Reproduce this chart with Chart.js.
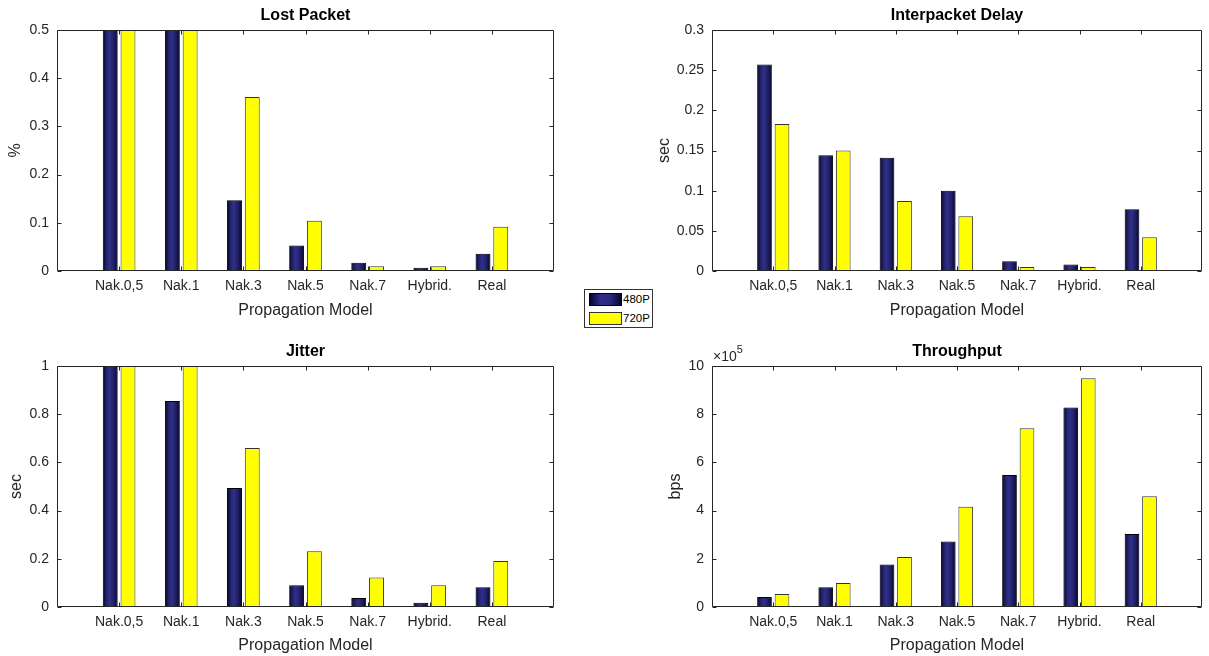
<!DOCTYPE html>
<html>
<head>
<meta charset="utf-8">
<script src="https://cdn.jsdelivr.net/npm/chart.js@4.4.1/dist/chart.umd.min.js"></script>
<style>
  body { margin: 0; background: #fff; width: 1209px; height: 656px; position: relative; overflow: hidden; font-family: 'Liberation Sans', Arial, sans-serif; }
  canvas { position: absolute; }
  #legend { position: absolute; left: 584px; top: 289px; width: 67px; height: 37px; border: 1px solid #333; background: #fff; }
  .row { position: absolute; left: 4px; height: 12px; font-size: 11.5px; line-height: 12px; color: #000; }
  .sw { position: absolute; left: 0; top: 0; width: 31px; height: 11px; border: 1px solid #000; }
  .row span { position: absolute; left: 34px; top: 0; }
</style>
</head>
<body>
<canvas id="lost" style="left:0;top:0"></canvas>
<canvas id="delay" style="left:640px;top:0"></canvas>
<canvas id="jitter" style="left:0;top:326px"></canvas>
<canvas id="throughput" style="left:640px;top:326px"></canvas>
<div id="legend">
  <div class="row" style="top:3px"><div class="sw" style="background:linear-gradient(90deg,#07072c,#2e2e8a 35%,#2a2a80 65%,#06062a)"></div><span id="lg0"></span></div>
  <div class="row" style="top:22px"><div class="sw" style="background:#ffff00;border-color:#333"></div><span id="lg1"></span></div>
</div>
<script>
const categories = ['Nak.0,5', 'Nak.1', 'Nak.3', 'Nak.5', 'Nak.7', 'Hybrid.', 'Real']
const seriesNames = ['480P', '720P']

// values above the axis max are clipped, as in the original figure
const lostPacket480 = [0.6, 0.6, 0.147, 0.053, 0.017, 0.007, 0.036]
const lostPacket720 = [0.6, 0.6, 0.361, 0.104, 0.010, 0.010, 0.092]
const delay480 = [0.257, 0.144, 0.141, 0.100, 0.012, 0.008, 0.077]
const delay720 = [0.183, 0.150, 0.087, 0.068, 0.005, 0.005, 0.042]
const jitter480 = [1.2, 0.855, 0.494, 0.090, 0.037, 0.018, 0.082]
const jitter720 = [1.2, 1.2, 0.660, 0.231, 0.122, 0.090, 0.191]
const throughput480 = [41000, 82000, 176000, 272000, 548000, 828000, 303000]
const throughput720 = [54000, 100000, 207000, 416000, 742000, 949000, 460000]

const FONT = "'Liberation Sans', Arial, Helvetica, sans-serif"
const AXIS_COLOR = '#262626'

document.getElementById('lg0').textContent = seriesNames[0]
document.getElementById('lg1').textContent = seriesNames[1]

// box with inward tick marks, shaded navy bars and the axes title
const matlabAxes = {
    id: 'matlabAxes',
    afterDatasetDraw(chart, args) {
        if (args.index !== 0) return
        const ctx = chart.ctx
        const a = chart.chartArea
        const raw = chart.data.datasets[0].data
        ctx.save()
        ctx.beginPath()
        ctx.rect(a.left, a.top, a.right - a.left, a.bottom - a.top)
        ctx.clip()
        args.meta.data.forEach((bar, i) => {
            if (raw[i] == null) return
            const { x, y, base, width } = bar.getProps(['x', 'y', 'base', 'width'], true)
            const l = x - width / 2
            const g = ctx.createLinearGradient(l, 0, l + width, 0)
            g.addColorStop(0, '#05051e')
            g.addColorStop(0.25, '#24246e')
            g.addColorStop(0.45, '#30308c')
            g.addColorStop(0.75, '#1e1e62')
            g.addColorStop(1, '#04041a')
            ctx.fillStyle = g
            ctx.fillRect(l + 1, y + 1, width - 2, base - y - 1)
        })
        ctx.restore()
    },
    afterDraw(chart, args, opts) {
        const ctx = chart.ctx
        const a = chart.chartArea
        const xs = chart.scales.x
        const ys = chart.scales.y
        const L = Math.round(a.left) + 0.5, R = Math.round(a.right) - 0.5
        const T = Math.round(a.top) + 0.5, B = Math.round(a.bottom) - 0.5
        ctx.save()
        ctx.strokeStyle = AXIS_COLOR
        ctx.lineWidth = 1
        ctx.beginPath()
        ctx.rect(L, T, R - L, B - T)
        const tl = 4
        for (let i = 1; i <= categories.length; i++) {
            const px = Math.round(xs.getPixelForValue(i)) + 0.5
            ctx.moveTo(px, T); ctx.lineTo(px, T + tl)
            ctx.moveTo(px, B); ctx.lineTo(px, B - tl)
        }
        ys.ticks.forEach(t => {
            const py = Math.round(ys.getPixelForValue(t.value)) + 0.5
            ctx.moveTo(L, py); ctx.lineTo(L + tl, py)
            ctx.moveTo(R, py); ctx.lineTo(R - tl, py)
        })
        ctx.stroke()

        ctx.fillStyle = '#000'
        ctx.font = 'bold 16px ' + FONT
        ctx.textAlign = 'center'
        ctx.textBaseline = 'middle'
        ctx.fillText(opts.text, (a.left + a.right) / 2, a.top - 14)

        if (opts.exponent) {
            ctx.fillStyle = AXIS_COLOR
            ctx.textAlign = 'left'
            ctx.textBaseline = 'alphabetic'
            ctx.font = '14px ' + FONT
            ctx.fillText('\u00d710', a.left + 1, a.top - 5)
            const w = ctx.measureText('\u00d710').width
            ctx.font = '11px ' + FONT
            ctx.fillText(opts.exponent, a.left + 1 + w, a.top - 13)
        }
        ctx.restore()
    }
}

const makeChart = (id, cfg) => {
    const canvas = document.getElementById(id)
    canvas.width = cfg.w
    canvas.height = cfg.h
    canvas.style.width = cfg.w + 'px'
    canvas.style.height = cfg.h + 'px'

    const labels = ['', ...categories, '']
    const pad = arr => [null, ...arr, null]

    return new Chart(canvas.getContext('2d'), {
        type: 'bar',
        data: {
            labels,
            datasets: [
                {
                    label: seriesNames[0],
                    data: pad(cfg.a),
                    backgroundColor: '#1c1c60',
                    borderColor: '#000',
                    borderWidth: 1,
                    borderSkipped: false,
                    clip: 0
                },
                {
                    label: seriesNames[1],
                    data: pad(cfg.b),
                    backgroundColor: '#ffff00',
                    borderColor: '#333',
                    borderWidth: 1,
                    borderSkipped: false,
                    clip: 0
                }
            ]
        },
        plugins: [matlabAxes],
        options: {
            responsive: false,
            animation: false,
            events: [],
            categoryPercentage: 2 / 3.5,
            barPercentage: 0.84,
            layout: { padding: { left: 0, top: cfg.top, right: cfg.w - cfg.right, bottom: 0 } },
            plugins: {
                legend: { display: false },
                tooltip: { enabled: false },
                title: { display: false },
                matlabAxes: { text: cfg.title, exponent: cfg.exponent }
            },
            scales: {
                x: {
                    type: 'category',
                    offset: false,
                    grid: { display: false, drawTicks: false },
                    border: { display: false },
                    ticks: { autoSkip: false, maxRotation: 0, padding: 7, color: AXIS_COLOR, font: { family: FONT, size: 14 } },
                    title: { display: true, text: 'Propagation Model', color: AXIS_COLOR, font: { family: FONT, size: 16 }, padding: { top: 0, bottom: cfg.xTitlePad } },
                    afterFit: s => { s.height = cfg.h - cfg.bottom }
                },
                y: {
                    min: 0,
                    max: cfg.max,
                    grid: { display: false, drawTicks: false },
                    border: { display: false },
                    ticks: {
                        stepSize: cfg.step,
                        padding: 8,
                        color: AXIS_COLOR,
                        font: { family: FONT, size: 14 },
                        callback: v => String(+(v / (cfg.scale || 1)).toFixed(3))
                    },
                    title: { display: true, text: cfg.yLabel, color: AXIS_COLOR, font: { family: FONT, size: 16 }, padding: { top: cfg.yTitlePad, bottom: 0 } },
                    afterFit: s => { s.width = cfg.left }
                }
            }
        }
    })
}

makeChart('lost', {
    w: 604, h: 330, left: 57, right: 554, top: 30, bottom: 271,
    title: 'Lost Packet', yLabel: '%', max: 0.5, step: 0.1,
    a: lostPacket480, b: lostPacket720, yTitlePad: 6, xTitlePad: 10
})
makeChart('delay', {
    w: 569, h: 330, left: 72, right: 568, top: 30, bottom: 271,
    title: 'Interpacket Delay', yLabel: 'sec', max: 0.3, step: 0.05,
    a: delay480, b: delay720, yTitlePad: 15, xTitlePad: 10
})
makeChart('jitter', {
    w: 604, h: 330, left: 57, right: 554, top: 40, bottom: 281,
    title: 'Jitter', yLabel: 'sec', max: 1, step: 0.2,
    a: jitter480, b: jitter720, yTitlePad: 7, xTitlePad: 1
})
makeChart('throughput', {
    w: 569, h: 330, left: 72, right: 568, top: 40, bottom: 281,
    title: 'Throughput', yLabel: 'bps', max: 1000000, step: 200000, scale: 100000, exponent: '5',
    a: throughput480, b: throughput720, yTitlePad: 26, xTitlePad: 1
})
</script>
</body>
</html>
